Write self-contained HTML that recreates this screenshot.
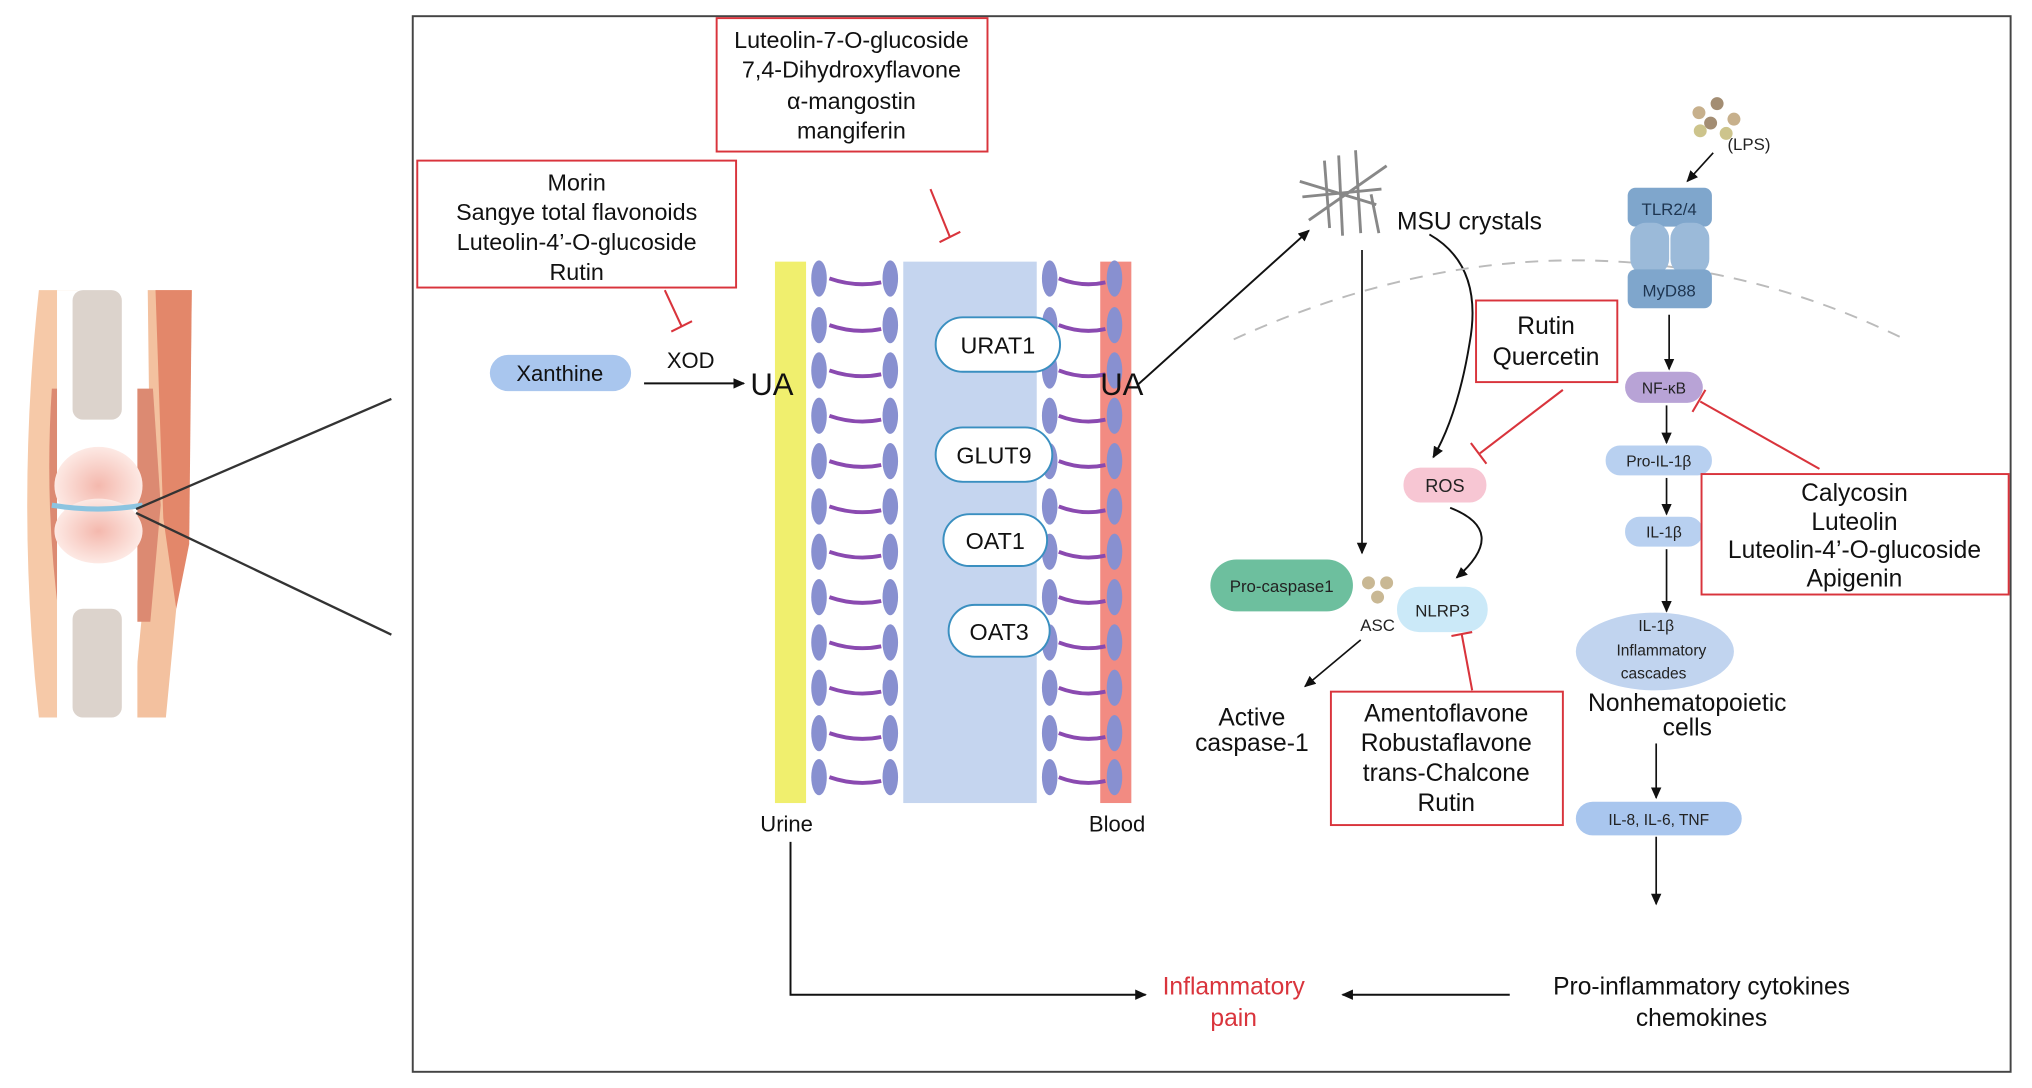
<!DOCTYPE html>
<html><head><meta charset="utf-8"><style>
html,body{margin:0;padding:0;background:#fff;}
svg{display:block;}
text{font-family:"Liberation Sans",sans-serif;}
</style></head><body>
<svg width="2032" height="1088" viewBox="0 0 1568 840" preserveAspectRatio="none" xmlns="http://www.w3.org/2000/svg">
<defs>
<marker id="ar" markerWidth="10" markerHeight="10" refX="8" refY="5" orient="auto" markerUnits="userSpaceOnUse"><path d="M0,1 L9,5 L0,9 z" fill="#111"/></marker>
<radialGradient id="cart" cx="0.5" cy="0.5" r="0.5"><stop offset="0" stop-color="#f4b8ad"/><stop offset="1" stop-color="#fde9e4"/></radialGradient>
</defs>
<!-- joint -->
<path d="M30,224 L60,224 L52,300 L40,390 L50,480 L60,554 L30,554 Q12,390 30,224z" fill="#f6c9a8"/>
<path d="M114,224 L148,224 L146,380 L136,470 L128,554 L102,554 L110,470 L116,390z" fill="#f3c19f"/>
<path d="M120,224 L148,224 L146,420 L136,470 L126,400z" fill="#e3876a"/>
<path d="M40,300 L60,300 L60,480 L46,480 Q34,390 40,300z" fill="#dc8a72"/>
<path d="M104,300 L118,300 L124,390 L116,480 L104,480z" fill="#dc8a72"/>
<rect x="44" y="224" width="62" height="330" fill="#fff"/>
<rect x="56" y="224" width="38" height="100" rx="8" fill="#dcd3cc"/>
<rect x="56" y="470" width="38" height="84" rx="8" fill="#dcd3cc"/>
<ellipse cx="76" cy="375" rx="34" ry="30" fill="url(#cart)"/>
<ellipse cx="76" cy="410" rx="34" ry="25" fill="url(#cart)"/>
<path d="M40,390 Q76,396 110,390" stroke="#8cc4e0" stroke-width="4" fill="none"/>
<line x1="105" y1="393" x2="302" y2="308" stroke="#333" stroke-width="1.8"/>
<line x1="105" y1="396" x2="302" y2="490" stroke="#333" stroke-width="1.8"/>
<!-- main frame -->
<rect x="318.5" y="12.5" width="1233" height="815" fill="none" stroke="#444" stroke-width="1.5"/>
<!-- top boxes -->
<rect x="553" y="14" width="209" height="103" fill="#fff" stroke="#d9343c" stroke-width="1.5"/>
<g font-size="18" text-anchor="middle" fill="#111">
<text x="657" y="37">Luteolin-7-O-glucoside</text>
<text x="657" y="60">7,4-Dihydroxyflavone</text>
<text x="657" y="84">α-mangostin</text>
<text x="657" y="107">mangiferin</text>
</g>
<rect x="322" y="124" width="246" height="98" fill="#fff" stroke="#d9343c" stroke-width="1.5"/>
<g font-size="18" text-anchor="middle" fill="#111">
<text x="445" y="147">Morin</text>
<text x="445" y="170">Sangye total flavonoids</text>
<text x="445" y="193">Luteolin-4’-O-glucoside</text>
<text x="445" y="216">Rutin</text>
</g>
<g stroke="#d9343c" stroke-width="1.6">
<line x1="513" y1="224" x2="526" y2="252"/><line x1="518" y1="256" x2="534" y2="248"/>
<line x1="718" y1="146" x2="733" y2="183"/><line x1="725" y1="187" x2="741" y2="179"/>
</g>
<!-- xanthine -->
<rect x="378" y="274" width="109" height="28" rx="14" fill="#a9c6ee"/>
<text x="432" y="294" font-size="17" text-anchor="middle" fill="#111">Xanthine</text>
<text x="533" y="284" font-size="17" text-anchor="middle" fill="#111">XOD</text>
<line x1="497" y1="296" x2="574" y2="296" stroke="#111" stroke-width="1.5" marker-end="url(#ar)"/>
<!-- membrane -->
<rect x="697" y="202" width="103" height="418" fill="#c5d5ef"/>
<rect x="598" y="202" width="24" height="418" fill="#f0ef6e"/>
<rect x="849" y="202" width="24" height="418" fill="#f28b82"/>
<g fill="#8890d0">
<ellipse cx="632" cy="215" rx="6" ry="14"/><ellipse cx="687" cy="215" rx="6" ry="14"/><ellipse cx="810" cy="215" rx="6" ry="14"/><ellipse cx="860" cy="215" rx="6" ry="14"/>
<ellipse cx="632" cy="251" rx="6" ry="14"/><ellipse cx="687" cy="251" rx="6" ry="14"/><ellipse cx="810" cy="251" rx="6" ry="14"/><ellipse cx="860" cy="251" rx="6" ry="14"/>
<ellipse cx="632" cy="286" rx="6" ry="14"/><ellipse cx="687" cy="286" rx="6" ry="14"/><ellipse cx="810" cy="286" rx="6" ry="14"/><ellipse cx="860" cy="286" rx="6" ry="14"/>
<ellipse cx="632" cy="321" rx="6" ry="14"/><ellipse cx="687" cy="321" rx="6" ry="14"/><ellipse cx="810" cy="321" rx="6" ry="14"/><ellipse cx="860" cy="321" rx="6" ry="14"/>
<ellipse cx="632" cy="356" rx="6" ry="14"/><ellipse cx="687" cy="356" rx="6" ry="14"/><ellipse cx="810" cy="356" rx="6" ry="14"/><ellipse cx="860" cy="356" rx="6" ry="14"/>
<ellipse cx="632" cy="391" rx="6" ry="14"/><ellipse cx="687" cy="391" rx="6" ry="14"/><ellipse cx="810" cy="391" rx="6" ry="14"/><ellipse cx="860" cy="391" rx="6" ry="14"/>
<ellipse cx="632" cy="426" rx="6" ry="14"/><ellipse cx="687" cy="426" rx="6" ry="14"/><ellipse cx="810" cy="426" rx="6" ry="14"/><ellipse cx="860" cy="426" rx="6" ry="14"/>
<ellipse cx="632" cy="461" rx="6" ry="14"/><ellipse cx="687" cy="461" rx="6" ry="14"/><ellipse cx="810" cy="461" rx="6" ry="14"/><ellipse cx="860" cy="461" rx="6" ry="14"/>
<ellipse cx="632" cy="496" rx="6" ry="14"/><ellipse cx="687" cy="496" rx="6" ry="14"/><ellipse cx="810" cy="496" rx="6" ry="14"/><ellipse cx="860" cy="496" rx="6" ry="14"/>
<ellipse cx="632" cy="531" rx="6" ry="14"/><ellipse cx="687" cy="531" rx="6" ry="14"/><ellipse cx="810" cy="531" rx="6" ry="14"/><ellipse cx="860" cy="531" rx="6" ry="14"/>
<ellipse cx="632" cy="566" rx="6" ry="14"/><ellipse cx="687" cy="566" rx="6" ry="14"/><ellipse cx="810" cy="566" rx="6" ry="14"/><ellipse cx="860" cy="566" rx="6" ry="14"/>
<ellipse cx="632" cy="600" rx="6" ry="14"/><ellipse cx="687" cy="600" rx="6" ry="14"/><ellipse cx="810" cy="600" rx="6" ry="14"/><ellipse cx="860" cy="600" rx="6" ry="14"/>
</g>
<g stroke="#8a4ab0" stroke-width="3" fill="none">
<path d="M640,215 Q660,222 680,218"/><path d="M817,215 Q835,222 853,218"/>
<path d="M640,251 Q660,258 680,254"/><path d="M817,251 Q835,258 853,254"/>
<path d="M640,286 Q660,293 680,289"/><path d="M817,286 Q835,293 853,289"/>
<path d="M640,321 Q660,328 680,324"/><path d="M817,321 Q835,328 853,324"/>
<path d="M640,356 Q660,363 680,359"/><path d="M817,356 Q835,363 853,359"/>
<path d="M640,391 Q660,398 680,394"/><path d="M817,391 Q835,398 853,394"/>
<path d="M640,426 Q660,433 680,429"/><path d="M817,426 Q835,433 853,429"/>
<path d="M640,461 Q660,468 680,464"/><path d="M817,461 Q835,468 853,464"/>
<path d="M640,496 Q660,503 680,499"/><path d="M817,496 Q835,503 853,499"/>
<path d="M640,531 Q660,538 680,534"/><path d="M817,531 Q835,538 853,534"/>
<path d="M640,566 Q660,573 680,569"/><path d="M817,566 Q835,573 853,569"/>
<path d="M640,600 Q660,607 680,603"/><path d="M817,600 Q835,607 853,603"/>
</g>
<g fill="#fff" stroke="#3a8fc0" stroke-width="1.5">
<rect x="722" y="245" width="96" height="42" rx="21"/>
<rect x="722" y="330" width="90" height="42" rx="21"/>
<rect x="728" y="397" width="80" height="40" rx="20"/>
<rect x="732" y="467" width="78" height="40" rx="20"/>
</g>
<g font-size="18" text-anchor="middle" fill="#111">
<text x="770" y="273">URAT1</text>
<text x="767" y="358">GLUT9</text>
<text x="768" y="424">OAT1</text>
<text x="771" y="494">OAT3</text>
</g>
<text x="579" y="305" font-size="24" fill="#111">UA</text>
<text x="849" y="305" font-size="24" fill="#111">UA</text>
<text x="607" y="642" font-size="17" text-anchor="middle" fill="#111">Urine</text>
<text x="862" y="642" font-size="17" text-anchor="middle" fill="#111">Blood</text>
<!-- bottom -->
<polyline points="610,650 610,768 884,768" fill="none" stroke="#111" stroke-width="1.5" marker-end="url(#ar)"/>
<text x="952" y="768" font-size="19" text-anchor="middle" fill="#d9343c">Inflammatory</text>
<text x="952" y="792" font-size="19" text-anchor="middle" fill="#d9343c">pain</text>
<line x1="1165" y1="768" x2="1036" y2="768" stroke="#111" stroke-width="1.5" marker-end="url(#ar)"/>
<text x="1313" y="768" font-size="19" text-anchor="middle" fill="#111">Pro-inflammatory cytokines</text>
<text x="1313" y="792" font-size="19" text-anchor="middle" fill="#111">chemokines</text>
<!-- MSU -->
<line x1="878" y1="297" x2="1010" y2="178" stroke="#111" stroke-width="1.5" marker-end="url(#ar)"/>
<g stroke="#888" stroke-width="2.2">
<line x1="1003" y1="140" x2="1062" y2="158"/><line x1="1010" y1="170" x2="1070" y2="128"/>
<line x1="1033" y1="120" x2="1036" y2="182"/><line x1="1046" y1="116" x2="1050" y2="180"/>
<line x1="1005" y1="152" x2="1066" y2="146"/><line x1="1022" y1="124" x2="1026" y2="176"/>
<line x1="1058" y1="150" x2="1064" y2="180"/>
</g>
<text x="1078" y="177" font-size="19" fill="#111">MSU crystals</text>
<line x1="1051" y1="193" x2="1051" y2="427" stroke="#111" stroke-width="1.3" marker-end="url(#ar)"/>
<path d="M1103,181 Q1145,205 1134,265 Q1125,320 1106,353" fill="none" stroke="#111" stroke-width="1.5" marker-end="url(#ar)"/>
<path d="M952,262 Q1220,140 1470,262" fill="none" stroke="#bbb" stroke-width="1.5" stroke-dasharray="10,8"/>
<!-- Rutin Quercetin -->
<rect x="1139" y="232" width="109" height="63" fill="#fff" stroke="#d9343c" stroke-width="1.5"/>
<text x="1193" y="258" font-size="19" text-anchor="middle" fill="#111">Rutin</text>
<text x="1193" y="282" font-size="19" text-anchor="middle" fill="#111">Quercetin</text>
<g stroke="#d9343c" stroke-width="1.6">
<line x1="1206" y1="301" x2="1142" y2="350"/><line x1="1135" y1="342" x2="1147" y2="358"/>
</g>
<rect x="1083" y="361" width="64" height="27" rx="13" fill="#f7c6d3"/>
<text x="1115" y="380" font-size="14" text-anchor="middle" fill="#222">ROS</text>
<path d="M1119,392 Q1165,410 1124,446" fill="none" stroke="#111" stroke-width="1.5" marker-end="url(#ar)"/>
<rect x="934" y="432" width="110" height="40" rx="20" fill="#6dbf9e"/>
<text x="989" y="457" font-size="13" text-anchor="middle" fill="#222">Pro-caspase1</text>
<g fill="#c9b894"><circle cx="1056" cy="450" r="5"/><circle cx="1070" cy="450" r="5"/><circle cx="1063" cy="461" r="5"/></g>
<text x="1063" y="487" font-size="13" text-anchor="middle" fill="#222">ASC</text>
<rect x="1078" y="453" width="70" height="35" rx="17" fill="#cbe9f8"/>
<text x="1113" y="476" font-size="13" text-anchor="middle" fill="#222">NLRP3</text>
<line x1="1050" y1="494" x2="1007" y2="530" stroke="#111" stroke-width="1.3" marker-end="url(#ar)"/>
<text x="966" y="560" font-size="19" text-anchor="middle" fill="#111">Active</text>
<text x="966" y="580" font-size="19" text-anchor="middle" fill="#111">caspase-1</text>
<g stroke="#d9343c" stroke-width="1.6">
<line x1="1136" y1="533" x2="1128" y2="490"/><line x1="1120" y1="491" x2="1136" y2="488"/>
</g>
<rect x="1027" y="534" width="179" height="103" fill="#fff" stroke="#d9343c" stroke-width="1.5"/>
<g font-size="19" text-anchor="middle" fill="#111">
<text x="1116" y="557">Amentoflavone</text>
<text x="1116" y="580">Robustaflavone</text>
<text x="1116" y="603">trans-Chalcone</text>
<text x="1116" y="626">Rutin</text>
</g>
<!-- TLR -->
<g fill="#c7b08c"><circle cx="1311" cy="87" r="5"/><circle cx="1325" cy="80" r="5" fill="#a38d73"/><circle cx="1320" cy="95" r="5" fill="#a38d73"/><circle cx="1338" cy="92" r="5"/><circle cx="1312" cy="101" r="5" fill="#cdc48c"/><circle cx="1332" cy="103" r="5" fill="#cdc48c"/></g>
<text x="1333" y="116" font-size="13" fill="#222">(LPS)</text>
<line x1="1322" y1="118" x2="1302" y2="140" stroke="#111" stroke-width="1.3" marker-end="url(#ar)"/>
<rect x="1256" y="145" width="65" height="30" rx="6" fill="#7fa6cc"/>
<rect x="1258" y="172" width="30" height="40" rx="12" fill="#9bbad9"/>
<rect x="1289" y="172" width="30" height="40" rx="12" fill="#9bbad9"/>
<rect x="1256" y="208" width="65" height="30" rx="6" fill="#7fa6cc"/>
<text x="1288" y="166" font-size="13" text-anchor="middle" fill="#1e3550">TLR2/4</text>
<text x="1288" y="229" font-size="13" text-anchor="middle" fill="#1e3550">MyD88</text>
<line x1="1288" y1="243" x2="1288" y2="285" stroke="#111" stroke-width="1.3" marker-end="url(#ar)"/>
<rect x="1254" y="287" width="60" height="24" rx="12" fill="#b8a3d6"/>
<text x="1284" y="304" font-size="12" text-anchor="middle" fill="#222">NF-κB</text>
<line x1="1286" y1="313" x2="1286" y2="342" stroke="#111" stroke-width="1.3" marker-end="url(#ar)"/>
<rect x="1239" y="344" width="82" height="23" rx="11" fill="#b8d0f0"/>
<text x="1280" y="360" font-size="12" text-anchor="middle" fill="#222">Pro-IL-1β</text>
<line x1="1286" y1="369" x2="1286" y2="397" stroke="#111" stroke-width="1.3" marker-end="url(#ar)"/>
<rect x="1254" y="399" width="60" height="23" rx="11" fill="#b8d0f0"/>
<text x="1284" y="415" font-size="12" text-anchor="middle" fill="#222">IL-1β</text>
<line x1="1286" y1="424" x2="1286" y2="472" stroke="#111" stroke-width="1.3" marker-end="url(#ar)"/>
<ellipse cx="1277" cy="503" rx="61" ry="30" fill="#c1d4ef"/>
<text x="1278" y="487" font-size="12" text-anchor="middle" fill="#222">IL-1β</text>
<text x="1282" y="506" font-size="12" text-anchor="middle" fill="#222">Inflammatory</text>
<text x="1276" y="524" font-size="12" text-anchor="middle" fill="#222">cascades</text>
<text x="1302" y="549" font-size="19" text-anchor="middle" fill="#111">Nonhematopoietic</text>
<text x="1302" y="568" font-size="19" text-anchor="middle" fill="#111">cells</text>
<line x1="1278" y1="574" x2="1278" y2="616" stroke="#111" stroke-width="1.3" marker-end="url(#ar)"/>
<rect x="1216" y="619" width="128" height="26" rx="13" fill="#a9c6ee"/>
<text x="1280" y="637" font-size="12" text-anchor="middle" fill="#222">IL-8, IL-6, TNF</text>
<line x1="1278" y1="646" x2="1278" y2="698" stroke="#111" stroke-width="1.3" marker-end="url(#ar)"/>
<g stroke="#d9343c" stroke-width="1.6">
<line x1="1404" y1="362" x2="1312" y2="310"/><line x1="1306" y1="318" x2="1316" y2="301"/>
</g>
<rect x="1313" y="366" width="237" height="93" fill="#fff" stroke="#d9343c" stroke-width="1.5"/>
<g font-size="19" text-anchor="middle" fill="#111">
<text x="1431" y="387">Calycosin</text>
<text x="1431" y="409">Luteolin</text>
<text x="1431" y="431">Luteolin-4’-O-glucoside</text>
<text x="1431" y="453">Apigenin</text>
</g>
</svg>
</body></html>
